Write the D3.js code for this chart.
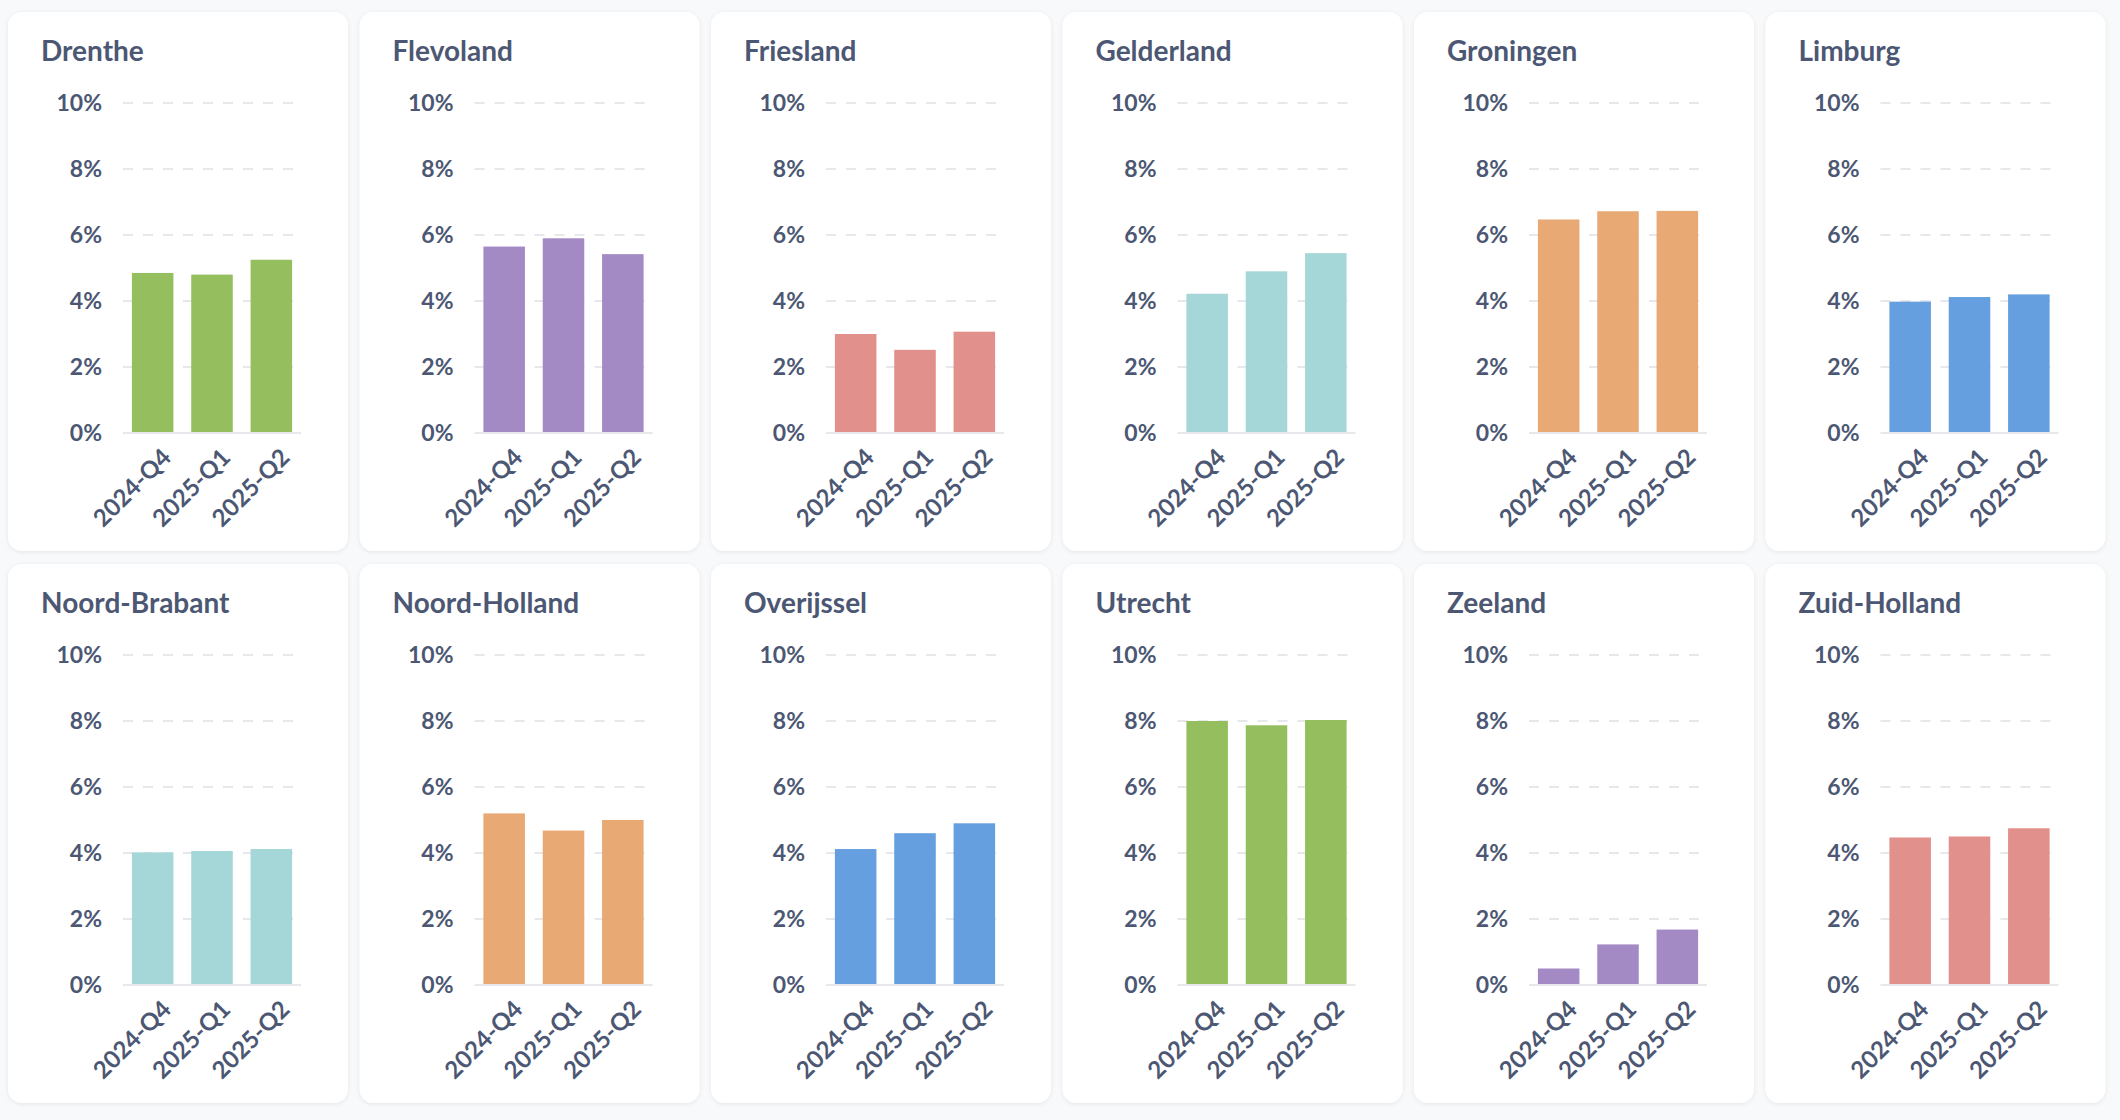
<!DOCTYPE html><html><head><meta charset="utf-8">
<script src="https://cdn.jsdelivr.net/npm/d3@7"></script>
<style>body{margin:0;background:#f8f9fb;font-family:Lato,"Noto Sans",sans-serif}</style></head><body>
<svg id="c" width="2120" height="1120"></svg>
<script>
const provinces=["Drenthe","Flevoland","Friesland","Gelderland","Groningen","Limburg","Noord-Brabant","Noord-Holland","Overijssel","Utrecht","Zeeland","Zuid-Holland"];
const quarters=["2024-Q4","2025-Q1","2025-Q2"];
const values=[[4.85,4.8,5.25],[5.65,5.9,5.42],[3.0,2.52,3.07],[4.22,4.9,5.45],[6.47,6.72,6.73],[3.98,4.12,4.2],[4.02,4.06,4.12],[5.2,4.68,5.0],[4.12,4.6,4.9],[8.0,7.87,8.03],[0.5,1.23,1.68],[4.47,4.5,4.75]];
const colors=["#95bf5e","#a48ac4","#e2908c","#a6d7d8","#e8a975","#659fdf"];
const yTicks=[0,2,4,6,8,10];
const svg=d3.select("#c");
const defs=svg.append("defs");
const f=defs.append("filter").attr("id","sh").attr("x","-10%").attr("y","-10%").attr("width","120%").attr("height","120%");
f.append("feDropShadow").attr("dx",0).attr("dy",1).attr("stdDeviation",2).attr("flood-color","#000").attr("flood-opacity",0.08);
const txt="#4c5773";
provinces.forEach((p,i)=>{
  const col=i%6,row=Math.floor(i/6);
  const color=colors[(i+(row?3:0))%6];
  const g=svg.append("g").attr("transform",`translate(${8+col*351.5},${12+row*552})`);
  g.append("rect").attr("width",340).attr("height",539).attr("rx",14).attr("fill","#fff").attr("filter","url(#sh)");
  g.append("text").attr("x",33).attr("y",49).attr("fill",txt).attr("font-size",28).attr("font-weight",700).text(p);
  const y=d3.scaleLinear().domain([0,10]).range([421,91]);
  const x=d3.scaleBand().domain(quarters).range([115,293]).paddingInner(0.3).paddingOuter(0.15);
  yTicks.forEach(t=>{
    if(t>0) g.append("line").attr("x1",115).attr("x2",285).attr("y1",y(t)).attr("y2",y(t)).attr("stroke","#e6e8ec").attr("stroke-width",2).attr("stroke-dasharray","10,10");
    g.append("text").attr("x",94).attr("y",y(t)).attr("dy","0.35em").attr("text-anchor","end").attr("fill",txt).attr("font-size",23).attr("font-weight",700).text(t+"%");
  });
  g.selectAll("rect.b").data(values[i]).join("rect").attr("class","b")
    .attr("x",(d,j)=>x(quarters[j])).attr("width",x.bandwidth()).attr("y",d=>y(d)).attr("height",d=>y(0)-y(d)).attr("fill",color);
  g.append("line").attr("x1",115).attr("x2",293).attr("y1",y(0)).attr("y2",y(0)).attr("stroke","#e6e8ec").attr("stroke-width",2);
  quarters.forEach(q=>{
    const cx=x(q)+x.bandwidth()/2+8;
    g.append("text").attr("transform",`translate(${cx},${y(0)+14}) rotate(-45)`).attr("text-anchor","end").attr("dy","0.7em")
      .attr("fill",txt).attr("font-size",24).attr("font-weight",700).text(q);
  });
});
</script></body></html>
